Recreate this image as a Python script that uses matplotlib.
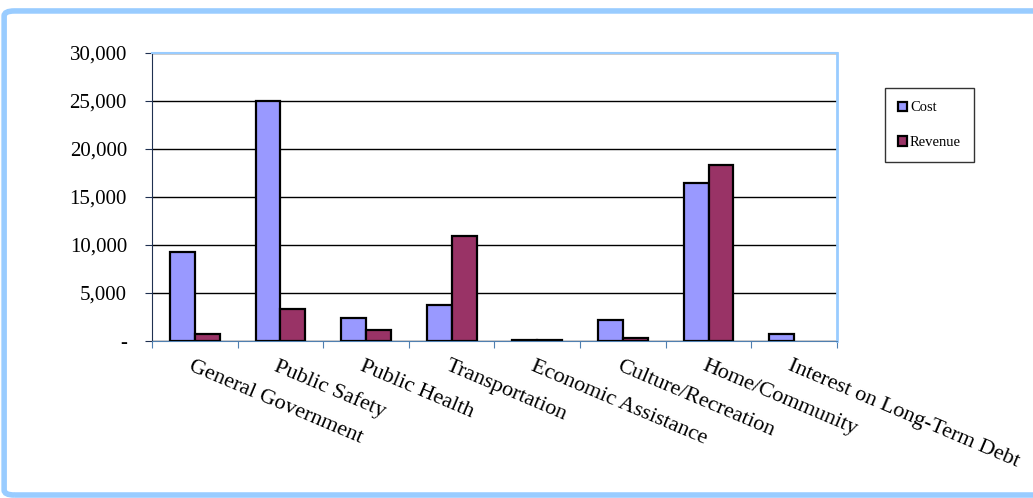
import numpy as np
import matplotlib.pyplot as plt
from matplotlib.patches import FancyBboxPatch
from matplotlib.ticker import FuncFormatter

# data
categories = ["General Government", "Public Safety", "Public Health", "Transportation",
              "Economic Assistance", "Culture/Recreation", "Home/Community",
              "Interest on Long-Term Debt"]
cost = [9250, 25000, 2400, 3750, 150, 2200, 16450, 750]
revenue = [750, 3350, 1150, 10900, 130, 300, 18300, 0]

plt.rcParams['font.family'] = ['Liberation Serif', 'DejaVu Serif']

fig = plt.figure(figsize=(10.33, 4.98), dpi=100)

# outer light blue frame
frame = FancyBboxPatch((0.004, 0.006), 1.2, 0.972,
                       boxstyle="round,pad=0,rounding_size=0.01",
                       transform=fig.transFigure, facecolor="none",
                       edgecolor="#99CCFF", linewidth=4, zorder=5)
fig.patches.append(frame)

ax = fig.add_axes([0.1471, 0.3153, 0.6632, 0.5783])
x = np.arange(len(categories))
w = 0.29
ax.bar(x - w / 2, cost, w, color="#9999FF",
       edgecolor=["black" if v > 0 else "none" for v in cost], linewidth=1.6,
       label="Cost", zorder=3)
ax.bar(x + w / 2, revenue, w, color="#993366",
       edgecolor=["black" if v > 0 else "none" for v in revenue], linewidth=1.6,
       label="Revenue", zorder=3)

ax.set_xlim(-0.5, len(categories) - 0.5)
ax.set_ylim(0, 30000)
ax.set_yticks(np.arange(0, 30001, 5000))
ax.yaxis.set_major_formatter(FuncFormatter(lambda v, p: "-" if v == 0 else f"{v:,.0f}"))
ax.grid(axis="y", color="black", linewidth=1, zorder=0)

ax.set_xticks(np.arange(-0.5, len(categories)), minor=False)
ax.set_xticklabels([])
ax.tick_params(axis="x", length=5, color="#4F7FB0", direction="out")
ax.tick_params(axis="y", length=5, color="#1F3050", labelsize=15, pad=13)

for i, name in enumerate(categories):
    ax.text(i - 0.02, -1650, name, rotation=-23, rotation_mode="anchor",
            ha="left", va="top", fontsize=16)

ax.spines["left"].set_color("#1F3050")
ax.spines["bottom"].set_color("#4F7FB0")
ax.spines["top"].set_color("#99CCFF")
ax.spines["right"].set_color("#99CCFF")
ax.spines["right"].set_linewidth(2)
ax.spines["top"].set_linewidth(1.5)

leg = fig.legend(loc="upper left", bbox_to_anchor=(0.857, 0.823),
                 fontsize=10.5, frameon=True, fancybox=False, edgecolor="black",
                 handlelength=0.6, handleheight=0.6, handletextpad=0.2,
                 labelspacing=1.5, borderpad=0.9, borderaxespad=0)
leg.get_frame().set_linewidth(1)

fig.savefig("out.png", dpi=100)
